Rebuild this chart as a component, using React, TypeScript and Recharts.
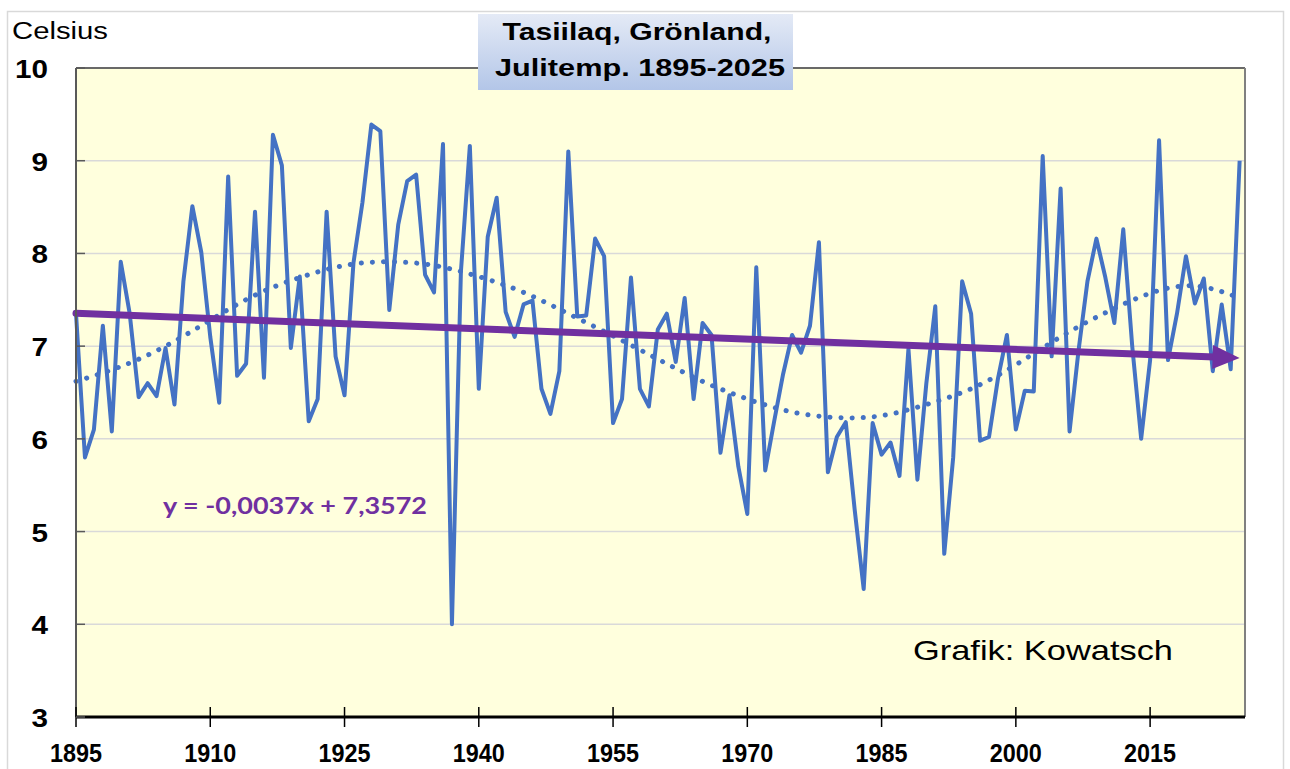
import React from 'react';
import { LineChart, Line, XAxis, YAxis, CartesianGrid, ReferenceLine } from 'recharts';

// Juli-Mitteltemperatur Tasiilaq, 1895-2025 (°C)
const startYear = 1895;
const julyTemps = [
  7.35, 5.8, 6.1, 7.22, 6.08, 7.91, 7.35, 6.45, 6.6, 6.46,
  6.98, 6.37, 7.7, 8.51, 8.01, 7.1, 6.39, 8.83, 6.68, 6.81,
  8.45, 6.66, 9.28, 8.95, 6.98, 7.75, 6.19, 6.43, 8.45, 6.89,
  6.47, 7.9, 8.55, 9.39, 9.32, 7.39, 8.31, 8.78, 8.85, 7.77,
  7.58, 9.18, 4.0, 7.8, 9.16, 6.54, 8.18, 8.6, 7.37, 7.1,
  7.45, 7.49, 6.54, 6.27, 6.73, 9.1, 7.32, 7.33, 8.16, 7.97,
  6.17, 6.43, 7.74, 6.54, 6.35, 7.18, 7.35, 6.83, 7.52, 6.43,
  7.25, 7.12, 5.85, 6.47, 5.7, 5.19, 7.85, 5.66, 6.19, 6.7,
  7.12, 6.93, 7.22, 8.12, 5.64, 6.02, 6.18, 5.23, 4.38, 6.17,
  5.83, 5.96, 5.6, 6.97, 5.56, 6.6, 7.43, 4.76, 5.8, 7.7,
  7.35, 5.98, 6.02, 6.65, 7.12, 6.1, 6.52, 6.51, 9.05, 6.89,
  8.7, 6.08, 6.95, 7.7, 8.16, 7.74, 7.25, 8.26, 7.0, 6.0,
  6.85, 9.22, 6.85, 7.35, 7.97, 7.46, 7.73, 6.73, 7.45, 6.75,
  9.0,
];

// gepunktete Polynom-Trendlinie
const polyYears = [1895, 1900, 1905, 1910, 1915, 1920, 1925, 1930, 1935, 1940, 1945, 1950, 1955, 1960, 1965, 1970, 1975, 1980, 1985, 1990, 1995, 2000, 2005, 2010, 2015, 2020, 2025];
const polyValues = [6.62, 6.78, 7.0, 7.28, 7.55, 7.74, 7.87, 7.91, 7.87, 7.75, 7.58, 7.35, 7.11, 6.86, 6.62, 6.43, 6.29, 6.23, 6.25, 6.37, 6.54, 6.8, 7.1, 7.36, 7.57, 7.65, 7.52];

// lineare Trendlinie laut Gleichung
const trendSlope = -0.0037;
const trendIntercept = 7.3572;

const xTicks = [1895, 1910, 1925, 1940, 1955, 1970, 1985, 2000, 2015];
const yTicks = [3, 4, 5, 6, 7, 8, 9, 10];

const data = julyTemps.map((t, i) => ({ year: startYear + i, temp: t }));
const polyData = polyYears.map((y, i) => ({ year: y, poly: polyValues[i] }));
const lastYear = startYear + julyTemps.length - 1;
const trendSegment = [
  { x: startYear, y: trendIntercept + trendSlope * 1 },
  { x: lastYear, y: trendIntercept + trendSlope * julyTemps.length },
];

const XTick = (props: any) => {
  const { x, y, payload } = props;
  return (
    <g>
      <line x1={x} x2={x} y1={y - 10} y2={y + 10} stroke="#000" strokeWidth={1.5} />
      <text
        x={x}
        y={y + 45}
        textAnchor="middle"
        fontFamily="'Liberation Sans Narrow', 'Liberation Sans', Arial"
        fontWeight="bold"
        fontSize={26}
        textLength={52}
        lengthAdjust="spacingAndGlyphs"
        fill="#000"
      >
        {payload.value}
      </text>
    </g>
  );
};

const YTick = (props: any) => {
  const { x, y, payload } = props;
  const label = String(payload.value);
  return (
    <g>
      <line x1={x} x2={x + 9} y1={y} y2={y} stroke="#595959" strokeWidth={1.5} />
      <text
        x={x - 28}
        y={y + 10}
        textAnchor="end"
        fontFamily="'Liberation Sans', Arial"
        fontWeight="bold"
        fontSize={25}
        textLength={16.5 * label.length}
        lengthAdjust="spacingAndGlyphs"
        fill="#000"
      >
        {label}
      </text>
    </g>
  );
};

const TrendArrow = (props: any) => {
  const { x1, y1, x2, y2 } = props;
  const len = Math.hypot(x2 - x1, y2 - y1);
  const ux = (x2 - x1) / len;
  const uy = (y2 - y1) / len;
  const head = 27;
  const half = 12;
  const bx = x2 - ux * head;
  const by = y2 - uy * head;
  return (
    <g>
      <line x1={x1} y1={y1} x2={bx + ux * 2} y2={by + uy * 2} stroke="#7030A0" strokeWidth={7} strokeLinecap="round" />
      <polygon
        points={`${x2},${y2} ${bx - uy * half},${by + ux * half} ${bx + uy * half},${by - ux * half}`}
        fill="#7030A0"
      />
    </g>
  );
};

export default function App() {
  return (
    <div style={{ position: 'absolute', left: 0, top: 0, width: 1290, height: 769, background: '#fff' }}>
      <LineChart width={1290} height={769} data={data} margin={{ top: 68, right: 45, bottom: 22, left: 16 }}>
        <CartesianGrid vertical={false} fill="#FFFFDD" stroke="#D9D9D9" strokeWidth={1.5} />
        <XAxis
          type="number"
          dataKey="year"
          domain={[1895, 2025.6]}
          ticks={xTicks}
          interval={0}
          height={30}
          tickSize={0}
          tickMargin={0}
          tick={XTick}
          axisLine={{ stroke: '#000', strokeWidth: 3 }}
        />
        <YAxis
          type="number"
          domain={[3, 10]}
          ticks={yTicks}
          interval={0}
          width={60}
          tickSize={0}
          tickMargin={0}
          tick={YTick}
          axisLine={{ stroke: '#595959', strokeWidth: 2 }}
        />
        <ReferenceLine y={10} stroke="#404040" strokeWidth={1.5} />
        <ReferenceLine x={2025.6} stroke="#808080" strokeWidth={2} />
        <Line
          dataKey="temp"
          stroke="#4472C4"
          strokeWidth={4}
          strokeLinejoin="round"
          dot={false}
          isAnimationActive={false}
        />
        <Line
          data={polyData}
          dataKey="poly"
          type="natural"
          stroke="#4472C4"
          strokeWidth={5}
          strokeDasharray="0.1 11"
          strokeLinecap="round"
          dot={false}
          isAnimationActive={false}
        />
        <ReferenceLine segment={trendSegment} shape={TrendArrow} />
      </LineChart>

      <svg width={1290} height={769} style={{ position: 'absolute', left: 0, top: 0, pointerEvents: 'none' }}>
        <defs>
          <linearGradient id="titleBg" x1="0" y1="0" x2="0" y2="1">
            <stop offset="0%" stopColor="#E4EAF6" />
            <stop offset="100%" stopColor="#B3C6E8" />
          </linearGradient>
        </defs>
        <rect x={7.5} y={11.5} width={1276} height={770} fill="none" stroke="#D9D9D9" strokeWidth={1.5} />
        <text x={12} y={39} fontFamily="'Liberation Sans', Arial" fontSize={23} textLength={96} lengthAdjust="spacingAndGlyphs" fill="#000">
          Celsius
        </text>
        <rect x={478} y={14} width={315} height={76} fill="url(#titleBg)" />
        <text x={637} y={40} textAnchor="middle" fontFamily="'Liberation Sans', Arial" fontWeight="bold" fontSize={24} textLength={269} lengthAdjust="spacingAndGlyphs" fill="#000">
          Tasiilaq, Grönland,
        </text>
        <text x={640} y={76} textAnchor="middle" fontFamily="'Liberation Sans', Arial" fontWeight="bold" fontSize={24} textLength={290} lengthAdjust="spacingAndGlyphs" fill="#000">
          Julitemp.  1895-2025
        </text>
        <text x={163} y={514} fontFamily="Lato, 'Open Sans', sans-serif" fontWeight="bold" fontSize={23} textLength={264} lengthAdjust="spacingAndGlyphs" fill="#7030A0">
          y = -0,0037x + 7,3572
        </text>
        <text x={913} y={660} fontFamily="'Liberation Sans', Arial" fontSize={28} textLength={260} lengthAdjust="spacingAndGlyphs" fill="#000">
          Grafik: Kowatsch
        </text>
      </svg>
    </div>
  );
}
